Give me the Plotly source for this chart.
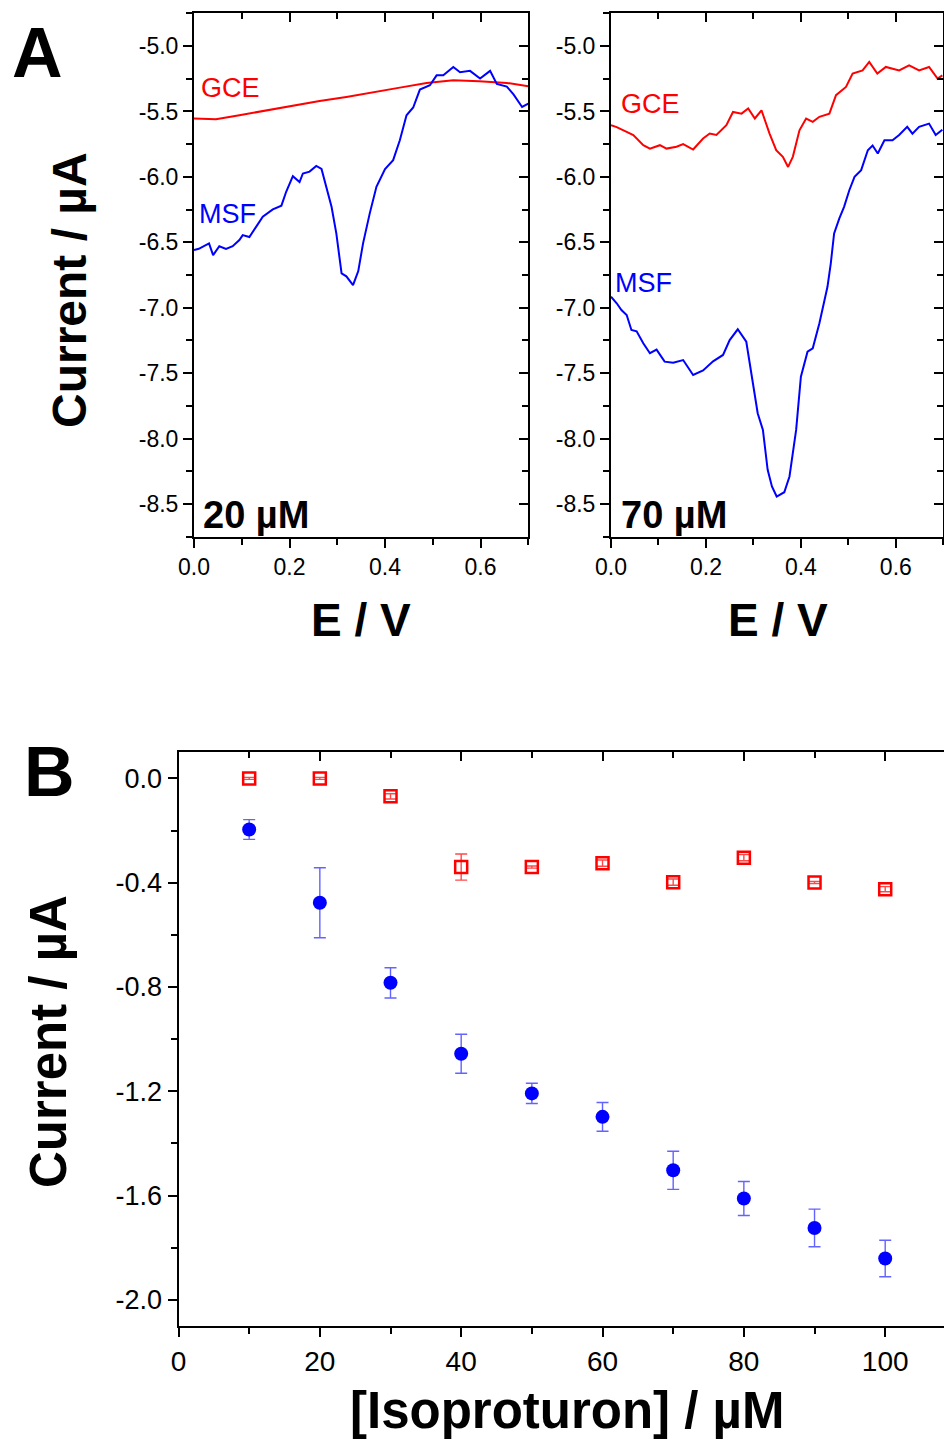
import plotly.graph_objects as go

# ---------------- Data ----------------
# Panel A, 20 uM
E20_gce = [0.0, 0.046, 0.095, 0.151, 0.207, 0.263, 0.319, 0.375, 0.431, 0.487, 0.543, 0.597, 0.655, 0.70]
I20_gce = [-5.554, -5.56, -5.529, -5.491, -5.453, -5.420, -5.389, -5.351, -5.318, -5.282, -5.262, -5.270, -5.282, -5.308]

E20_msf = [0.0, 0.010, 0.0315, 0.040, 0.053, 0.067, 0.081, 0.095, 0.102, 0.116, 0.130, 0.144, 0.165, 0.183,
           0.193, 0.207, 0.221, 0.228, 0.242, 0.256, 0.267, 0.277, 0.288, 0.298, 0.309, 0.319, 0.333, 0.344,
           0.354, 0.368, 0.382, 0.400, 0.417, 0.431, 0.445, 0.459, 0.473, 0.494, 0.508, 0.522, 0.543, 0.557,
           0.578, 0.599, 0.620, 0.634, 0.655, 0.669, 0.687, 0.70]
I20_msf = [-6.56, -6.55, -6.508, -6.598, -6.53, -6.55, -6.53, -6.483, -6.445, -6.46, -6.382, -6.305, -6.249, -6.22,
           -6.114, -5.995, -6.04, -5.974, -5.96, -5.916, -5.94, -6.076, -6.229, -6.432, -6.738, -6.76, -6.827, -6.72,
           -6.508, -6.279, -6.076, -5.94, -5.872, -5.72, -5.529, -5.47, -5.333, -5.30, -5.224, -5.224, -5.160, -5.20,
           -5.19, -5.249, -5.19, -5.29, -5.31, -5.37, -5.466, -5.44]

# Panel A, 70 uM
E70_gce = [0.0, 0.012, 0.033, 0.047, 0.068, 0.082, 0.103, 0.117, 0.138, 0.152, 0.173, 0.194, 0.208, 0.222,
           0.243, 0.257, 0.275, 0.289, 0.303, 0.317, 0.334, 0.348, 0.362, 0.373, 0.383, 0.397, 0.411, 0.425,
           0.439, 0.460, 0.474, 0.495, 0.509, 0.530, 0.544, 0.561, 0.579, 0.607, 0.628, 0.649, 0.670, 0.688, 0.698]
I70_gce = [-5.605, -5.62, -5.656, -5.68, -5.758, -5.784, -5.758, -5.784, -5.77, -5.75, -5.791, -5.707, -5.669, -5.68,
           -5.605, -5.504, -5.517, -5.478, -5.554, -5.491, -5.669, -5.796, -5.847, -5.924, -5.847, -5.644, -5.554, -5.58,
           -5.541, -5.517, -5.376, -5.313, -5.211, -5.186, -5.122, -5.211, -5.16, -5.186, -5.148, -5.186, -5.16, -5.249, -5.224]

E70_msf = [0.0, 0.012, 0.022, 0.033, 0.043, 0.054, 0.068, 0.082, 0.096, 0.113, 0.131, 0.152, 0.173, 0.194,
           0.215, 0.236, 0.250, 0.267, 0.285, 0.295, 0.309, 0.320, 0.330, 0.339, 0.349, 0.365, 0.376, 0.390,
           0.400, 0.414, 0.425, 0.439, 0.449, 0.456, 0.463, 0.470, 0.481, 0.491, 0.502, 0.513, 0.527, 0.541,
           0.551, 0.562, 0.576, 0.593, 0.607, 0.624, 0.635, 0.649, 0.670, 0.684, 0.698]
I70_msf = [-6.916, -6.966, -7.018, -7.056, -7.170, -7.18, -7.272, -7.348, -7.32, -7.412, -7.42, -7.40, -7.514, -7.48,
           -7.41, -7.361, -7.247, -7.165, -7.26, -7.476, -7.806, -7.934, -8.239, -8.366, -8.443, -8.41, -8.29, -7.934,
           -7.527, -7.336, -7.31, -7.119, -6.941, -6.840, -6.661, -6.432, -6.318, -6.229, -6.102, -6.0, -5.949, -5.796,
           -5.76, -5.822, -5.72, -5.72, -5.68, -5.618, -5.67, -5.618, -5.593, -5.68, -5.64]

# Panel B
conc = [10, 20, 30, 40, 50, 60, 70, 80, 90, 100]
msf_mean = [-0.196, -0.477, -0.784, -1.056, -1.208, -1.298, -1.503, -1.611, -1.724, -1.841]
msf_err = [0.038, 0.134, 0.058, 0.075, 0.039, 0.055, 0.073, 0.065, 0.072, 0.070]
gce_mean = [0.0, 0.0, -0.069, -0.340, -0.340, -0.325, -0.398, -0.304, -0.399, -0.425]
gce_err = [0.004, 0.004, 0.010, 0.050, 0.004, 0.012, 0.012, 0.012, 0.004, 0.010]

# Tick labels
xA_ticks = [0.0, 0.2, 0.4, 0.6]
xA_labels = ["0.0", "0.2", "0.4", "0.6"]
yA_ticks = [-5.0, -5.5, -6.0, -6.5, -7.0, -7.5, -8.0, -8.5]
yA_labels = ["-5.0", "-5.5", "-6.0", "-6.5", "-7.0", "-7.5", "-8.0", "-8.5"]
xB_ticks = [0, 20, 40, 60, 80, 100]
xB_labels = ["0", "20", "40", "60", "80", "100"]
yB_ticks = [0.0, -0.4, -0.8, -1.2, -1.6, -2.0]
yB_labels = ["0.0", "-0.4", "-0.8", "-1.2", "-1.6", "-2.0"]

# ---------------- Layout helpers ----------------
W, H = 944, 1440
FONT = "Arial, Liberation Sans, sans-serif"
RED = "#ff0000"
BLUE = "#0000ff"


def px_x(p):
    return p / W


def px_y(p):
    return 1 - p / H


fig = go.Figure()

# Panel A traces
fig.add_trace(go.Scatter(x=E20_gce, y=I20_gce, mode="lines", line=dict(color=RED, width=2), xaxis="x", yaxis="y"))
fig.add_trace(go.Scatter(x=E20_msf, y=I20_msf, mode="lines", line=dict(color=BLUE, width=2), xaxis="x", yaxis="y"))
fig.add_trace(go.Scatter(x=E70_gce, y=I70_gce, mode="lines", line=dict(color=RED, width=2), xaxis="x2", yaxis="y2"))
fig.add_trace(go.Scatter(x=E70_msf, y=I70_msf, mode="lines", line=dict(color=BLUE, width=2), xaxis="x2", yaxis="y2"))

# Panel B traces
fig.add_trace(go.Scatter(
    x=conc, y=gce_mean, mode="markers", xaxis="x3", yaxis="y3",
    marker=dict(symbol="square-open", size=12, color=RED, line=dict(width=2.5, color=RED)),
    error_y=dict(type="data", array=gce_err, visible=True, color="rgba(255,40,40,0.85)", thickness=1.4, width=6)))
fig.add_trace(go.Scatter(
    x=conc, y=msf_mean, mode="markers", xaxis="x3", yaxis="y3",
    marker=dict(symbol="circle", size=14, color=BLUE),
    error_y=dict(type="data", array=msf_err, visible=True, color="rgba(60,60,255,0.8)", thickness=1.4, width=6)))

# empty traces so overlay axes are drawn
for xa, ya in [("x4", "y4"), ("x5", "y5"), ("x6", "y3")]:
    fig.add_trace(go.Scatter(x=[], y=[], xaxis=xa, yaxis=ya, showlegend=False))

axis_common = dict(showline=True, linecolor="black", linewidth=2, showgrid=False, zeroline=False,
                   tickcolor="black", tickwidth=2, ticklen=9, automargin=False)

xA_dom1 = [px_x(194), px_x(528.3)]
xA_dom2 = [px_x(611), px_x(943.3)]
yA_dom = [px_y(536.7), px_y(13.3)]
xB_dom = [px_x(178.5), 1.0]
yB_dom = [px_y(1326), px_y(752.3)]

xA_range = [0, 0.7]
yA_range = [-8.75, -4.75]
xB_range = [0, (944 - 178.5) / 7.067]
yB_range = [-2.1, 0.1]

tickfontA = dict(family=FONT, size=23, color="black")


def xaxisA(domain, anchor):
    return dict(axis_common, domain=domain, anchor=anchor, range=xA_range, tickmode="array",
                tickvals=xA_ticks, ticktext=xA_labels, ticks="outside", tickfont=tickfontA,
                minor=dict(ticks="outside", ticklen=6, tickwidth=2, tickcolor="black", dtick=0.1, tick0=0.1))


def yaxisA(domain, anchor):
    return dict(axis_common, domain=domain, anchor=anchor, range=yA_range, tickmode="array",
                tickvals=yA_ticks, ticktext=yA_labels, ticks="outside", tickfont=tickfontA,
                minor=dict(ticks="outside", ticklen=6, tickwidth=2, tickcolor="black", dtick=0.25, tick0=-4.75))


def x_top(over, anchor, rng, tv, dt, t0):
    return dict(axis_common, overlaying=over, anchor=anchor, side="top", range=rng, tickmode="array",
                tickvals=tv, ticks="inside", showticklabels=False,
                minor=dict(ticks="inside", ticklen=6, tickwidth=2, tickcolor="black", dtick=dt, tick0=t0))


def y_right(over, anchor, rng, tv, dt, t0):
    return dict(axis_common, overlaying=over, anchor=anchor, side="right", range=rng, tickmode="array",
                tickvals=tv, ticks="inside", showticklabels=False,
                minor=dict(ticks="inside", ticklen=6, tickwidth=2, tickcolor="black", dtick=dt, tick0=t0))


fig.update_layout(
    width=W, height=H, margin=dict(l=0, r=0, t=0, b=0, pad=0, autoexpand=False),
    paper_bgcolor="white", plot_bgcolor="white", showlegend=False,
    font=dict(family=FONT, color="black"),
    xaxis=xaxisA(xA_dom1, "y"),
    yaxis=yaxisA(yA_dom, "x"),
    xaxis2=xaxisA(xA_dom2, "y2"),
    yaxis2=yaxisA(yA_dom, "x2"),
    xaxis3=dict(axis_common, domain=xB_dom, anchor="y3", range=xB_range, tickmode="array",
                tickvals=xB_ticks, ticktext=xB_labels, ticks="outside",
                tickfont=dict(family=FONT, size=28, color="black"),
                minor=dict(ticks="outside", ticklen=6, tickwidth=2, tickcolor="black", dtick=10, tick0=10)),
    yaxis3=dict(axis_common, domain=yB_dom, anchor="x3", range=yB_range, tickmode="array",
                tickvals=yB_ticks, ticktext=yB_labels, ticks="outside",
                tickfont=dict(family=FONT, size=27, color="black"),
                minor=dict(ticks="outside", ticklen=6, tickwidth=2, tickcolor="black", dtick=0.2, tick0=-0.2)),
    xaxis4=x_top("x", "y", xA_range, xA_ticks, 0.1, 0.1),
    yaxis4=y_right("y", "x", yA_range, yA_ticks, 0.25, -4.75),
    xaxis5=x_top("x2", "y2", xA_range, xA_ticks, 0.1, 0.1),
    yaxis5=y_right("y2", "x2", yA_range, yA_ticks, 0.25, -4.75),
    xaxis6=x_top("x3", "y3", xB_range, xB_ticks, 10, 10),
)

annotations = []


def ann(text, x, y, size, color="black", bold=False, xanchor="center", yanchor="middle", angle=0):
    t = f"<b>{text}</b>" if bold else text
    annotations.append(dict(text=t, x=px_x(x), y=px_y(y), xref="paper", yref="paper", showarrow=False,
                            xanchor=xanchor, yanchor=yanchor, textangle=angle,
                            font=dict(family=FONT, size=size, color=color)))


ann("A", 37, 53, 70, bold=True)
ann("B", 49, 772, 70, bold=True)
ann("GCE", 199, 88, 27, color=RED, xanchor="left")
ann("MSF", 197, 214, 27, color=BLUE, xanchor="left")
ann("GCE", 619, 104, 27, color=RED, xanchor="left")
ann("MSF", 613, 283, 27, color=BLUE, xanchor="left")
ann("20 µM", 201, 515, 38, bold=True, xanchor="left")
ann("70 µM", 619, 515, 38, bold=True, xanchor="left")
ann("E / V", 361, 620, 46, bold=True)
ann("E / V", 777.5, 620, 46, bold=True)
ann("Current / µA", 70, 290, 48, bold=True, angle=-90)
ann("[Isoproturon] / µM", 567, 1410, 51, bold=True)
ann("Current / µA", 48, 1042, 51, bold=True, angle=-90)

fig.update_layout(annotations=annotations)

fig.write_html("out.html", config={"displayModeBar": False},
               post_script="document.body.style.margin='0';document.body.style.overflow='hidden';")
